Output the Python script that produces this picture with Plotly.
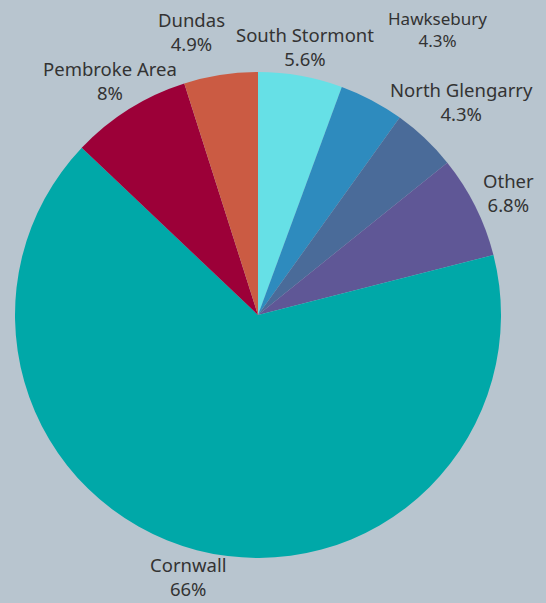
import plotly.graph_objects as go

labels = ["South Stormont", "Hawksebury", "North Glengarry", "Other", "Cornwall", "Pembroke Area", "Dundas"]
values = [5.6, 4.3, 4.3, 6.8, 66, 8, 4.9]
pct_text = ["5.6%", "4.3%", "4.3%", "6.8%", "66%", "8%", "4.9%"]
colors = ["#66e0e6", "#2e8bbe", "#4a6b99", "#5f5796", "#00a8a8", "#9c0038", "#cb5b43"]

W, H = 546, 603
cx, cy, r = 258, 315, 243

# label block centres (pixels from top-left) and font sizes
label_pos = [(305, 47), (437, 30), (461, 101), (508, 192), (188, 576), (110, 81), (191, 32)]
label_size = [18.5, 17, 18.5, 18.5, 18.5, 18.5, 18.5]

fig = go.Figure(go.Pie(
    labels=labels,
    values=values,
    textinfo="none",
    sort=False,
    direction="clockwise",
    rotation=0,
    marker=dict(colors=colors, line=dict(width=0)),
    showlegend=False,
    hoverinfo="label+percent",
    domain=dict(x=[(cx - r) / W, (cx + r) / W], y=[(H - cy - r) / H, (H - cy + r) / H]),
))

for lab, p, (px, py), fs in zip(labels, pct_text, label_pos, label_size):
    fig.add_annotation(
        x=px / W, y=1 - py / H, xref="paper", yref="paper",
        text=f"{lab}<br>{p}", showarrow=False,
        xanchor="center", yanchor="middle", align="center",
        font=dict(family="Noto Sans", size=fs, color="#333333"),
    )

fig.update_layout(
    width=W, height=H,
    margin=dict(l=0, r=0, t=0, b=0),
    paper_bgcolor="#b8c5cf",
    plot_bgcolor="#b8c5cf",
)

fig.write_html(
    "out.html",
    config={"displayModeBar": False},
    post_script="document.body.style.margin='0';document.body.style.background='#b8c5cf';",
)
